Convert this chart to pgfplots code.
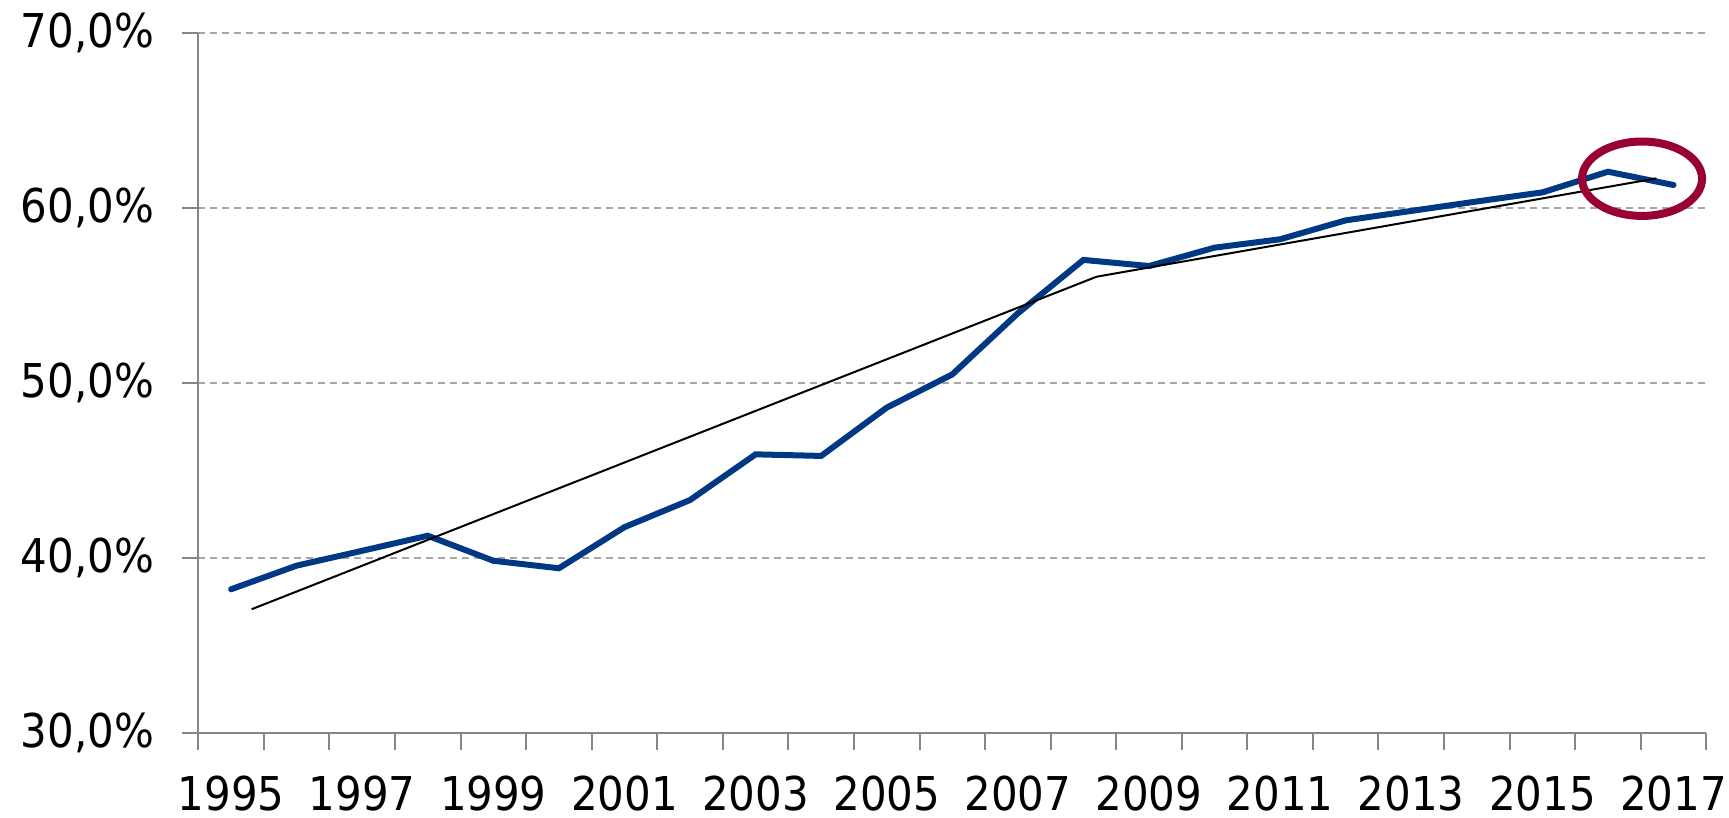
\documentclass[border=0pt]{standalone}
\usepackage{pgfplots}
\pgfplotsset{compat=1.18}
\usepackage{fontspec}
\setmainfont{DejaVu Sans Condensed}
\definecolor{serieblue}{RGB}{0,56,132}
\definecolor{circred}{RGB}{153,0,51}
\definecolor{axgray}{RGB}{134,134,134}
\definecolor{gridgray}{RGB}{166,166,166}
\begin{document}
\begin{tikzpicture}
\begin{axis}[
  at={(0,0)}, anchor=south west,
  scale only axis,
  width=754pt, height=350pt,
  xmin=-0.5, xmax=22.5,
  ymin=30, ymax=70,
  axis x line*=bottom, axis y line*=left,
  axis line style={draw=axgray, line width=1pt},
  tick align=outside,
  xtick={0,2,...,22},
  xticklabels={1995,1997,1999,2001,2003,2005,2007,2009,2011,2013,2015,2017},
  major x tick style={draw=none},
  minor xtick={-0.5,0.5,...,22.5},
  minor x tick style={draw=axgray, line width=1pt},
  minor tick length=8.5pt,
  ytick={30,40,50,60,70},
  yticklabels={{30,0\%},{40,0\%},{50,0\%},{60,0\%},{70,0\%}},
  major y tick style={draw=axgray, line width=1pt},
  major tick length=8pt,
  ymajorgrids,
  grid style={draw=gridgray, line width=1pt, dash pattern=on 3.5pt off 2.5pt},
  /pgf/number format/assume math mode=true,
  tick label style={font=\fontsize{23.3}{28}\selectfont, text=black},
  xticklabel style={anchor=north, inner sep=0pt, yshift=-13.35pt},
  yticklabel style={anchor=east, inner sep=0pt, xshift=-13.9pt},
  clip=false,
]
\addplot[serieblue, line width=3pt, line cap=round, mark=none] coordinates {
(0,38.23) (1,39.58) (2,40.43) (3,41.29) (4,39.86) (5,39.43) (6,41.78)
(7,43.33) (8,45.94) (9,45.85) (10,48.61) (11,50.51) (12,54.0) (13,57.05)
(14,56.70) (15,57.75) (16,58.23) (17,59.31) (18,59.85) (19,60.39)
(20,60.91) (21,62.09) (22,61.33)
};
\addplot[black, line width=1pt, mark=none] coordinates {
(0.314,37.09) (13.2,56.09) (21.74,61.71)
};
\draw[circred, line width=4pt] (axis cs:21.52,61.69) ellipse [x radius=30pt, y radius=18.6pt];
\end{axis}
\pgfresetboundingbox
\path[use as bounding box] (-99.15pt,-42.35pt) rectangle (765.35pt,366.65pt);
\end{tikzpicture}
\end{document}
